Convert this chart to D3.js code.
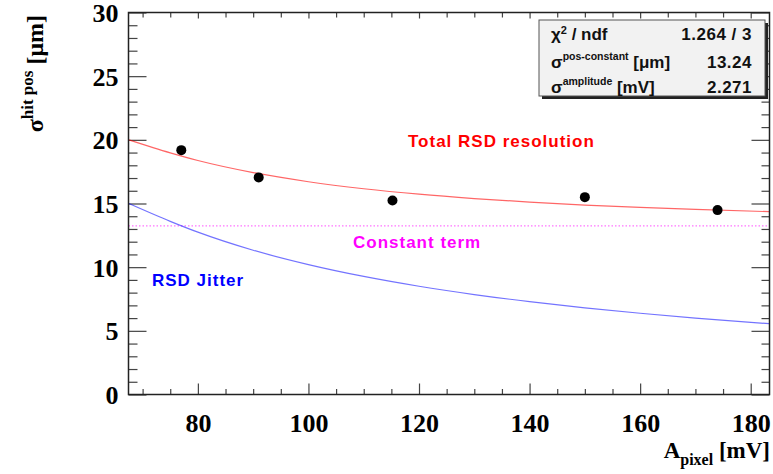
<!DOCTYPE html>
<html>
<head>
<meta charset="utf-8">
<script src="https://cdn.jsdelivr.net/npm/d3@7"></script>
<style>
  body { margin: 0; background: #fff; }
  svg { display: block; }
</style>
</head>
<body>
<div id="chart"></div>
<script>
// measured points (amplitude in mV, resolution in um)
const ampPoints = [77.0, 91.0, 115.2, 150.0, 174.0];
const sigmaPoints = [19.19, 17.05, 15.24, 15.5, 14.48];

// fitted curves at these amplitudes
const curveAmp = [67.5, 75, 80, 90, 100, 110, 120, 130, 140, 150, 160, 170, 183.4];
const totalRes = [20.0, 18.98, 18.38, 17.43, 16.71, 16.16, 15.73, 15.39, 15.11, 14.88, 14.70, 14.54, 14.36];
const jitterRes = [15.0, 13.6, 12.75, 11.33, 10.2, 9.27, 8.5, 7.85, 7.29, 6.8, 6.38, 6.0, 5.56];
const constTerm = 13.24;

// axis ticks
const xTicks = [80, 100, 120, 140, 160, 180];
const yTicks = [0, 5, 10, 15, 20, 25, 30];

// stats box
const statNames = ["χ2 / ndf", "σpos-constant [μm]", "σamplitude [mV]"];
const statValues = ["1.264 / 3", "13.24", "2.271"];

(function () {
    const W = 773, H = 474;
    const frame = { left: 128.5, right: 769.5, top: 12.5, bottom: 394.5 };

    const svg = d3.select("#chart").append("svg")
        .attr("width", W).attr("height", H);

    const x = d3.scaleLinear().domain([67.45, 183.4]).range([frame.left, frame.right]);
    const y = d3.scaleLinear().domain([0, 30]).range([frame.bottom, frame.top]);

    const serif = "'Liberation Serif', 'Times New Roman', serif";
    const sans = "'Liberation Sans', Arial, Helvetica, sans-serif";

    const xMinor = d3.range(70, 184, 5).filter(v => !xTicks.includes(v));
    const yMinor = d3.range(0, 31, 1).filter(v => !yTicks.includes(v));

    // tick marks on all four sides
    function ticks(axisFn, scale, values, size, tx, ty) {
        const g = svg.append("g")
            .attr("transform", `translate(${tx},${ty})`)
            .call(axisFn(scale).tickValues(values).tickSize(size).tickFormat(""));
        g.select(".domain").remove();
        g.selectAll("line").attr("stroke", "#444").attr("stroke-width", 1.2);
    }
    ticks(d3.axisBottom, x, xTicks, -11, 0, frame.bottom);
    ticks(d3.axisBottom, x, xMinor, -5.5, 0, frame.bottom);
    ticks(d3.axisTop, x, xTicks, -6, 0, frame.top);
    ticks(d3.axisTop, x, xMinor, -5, 0, frame.top);
    ticks(d3.axisLeft, y, yTicks, -18, frame.left, 0);
    ticks(d3.axisLeft, y, yMinor, -9, frame.left, 0);
    ticks(d3.axisRight, y, yTicks, -18, frame.right, 0);
    ticks(d3.axisRight, y, yMinor, -8, frame.right, 0);

    // tick labels
    const xl = svg.append("g")
        .attr("transform", `translate(0,${frame.bottom})`)
        .call(d3.axisBottom(x).tickValues(xTicks).tickSize(0).tickFormat(d3.format("d")));
    xl.select(".domain").remove();
    xl.selectAll("text").attr("y", 37).attr("dy", 0)
        .attr("font-family", serif).attr("font-weight", "bold").attr("font-size", 26).attr("fill", "#000");

    const yl = svg.append("g")
        .attr("transform", `translate(${frame.left},0)`)
        .call(d3.axisLeft(y).tickValues(yTicks).tickSize(0).tickPadding(10).tickFormat(d3.format("d")));
    yl.select(".domain").remove();
    yl.selectAll("text").attr("dy", "0.34em")
        .attr("font-family", serif).attr("font-weight", "bold").attr("font-size", 26).attr("fill", "#000");

    // curves
    const line = d3.line().x(d => x(d[0])).y(d => y(d[1])).curve(d3.curveMonotoneX);

    svg.append("line")
        .attr("x1", frame.left).attr("x2", frame.right)
        .attr("y1", y(constTerm)).attr("y2", y(constTerm))
        .attr("stroke", "#ff00ff").attr("stroke-opacity", 0.55)
        .attr("stroke-width", 1.2).attr("stroke-dasharray", "1.5,2");

    svg.append("path")
        .datum(curveAmp.map((a, i) => [a, jitterRes[i]]))
        .attr("d", line).attr("fill", "none")
        .attr("stroke", "#0000ff").attr("stroke-opacity", 0.55).attr("stroke-width", 1.2);

    svg.append("path")
        .datum(curveAmp.map((a, i) => [a, totalRes[i]]))
        .attr("d", line).attr("fill", "none")
        .attr("stroke", "#ff0000").attr("stroke-opacity", 0.6).attr("stroke-width", 1.2);

    // data points
    svg.selectAll(".pt")
        .data(ampPoints.map((a, i) => [a, sigmaPoints[i]]))
        .enter().append("circle")
        .attr("class", "pt")
        .attr("cx", d => x(d[0])).attr("cy", d => y(d[1]))
        .attr("r", 5).attr("fill", "#000");

    // curve labels
    const labels = [
        { t: "Total RSD resolution", x: 408, y: 147, c: "#ff0000" },
        { t: "Constant term", x: 353, y: 248, c: "#ff00ff" },
        { t: "RSD Jitter", x: 152, y: 286, c: "#0000ff" }
    ];
    svg.selectAll(".lab")
        .data(labels).enter().append("text")
        .attr("x", d => d.x).attr("y", d => d.y)
        .attr("fill", d => d.c)
        .attr("font-family", sans).attr("font-weight", "bold").attr("font-size", 17)
        .attr("letter-spacing", 1)
        .text(d => d.t);

    // frame
    svg.append("rect")
        .attr("x", frame.left).attr("y", frame.top)
        .attr("width", frame.right - frame.left).attr("height", frame.bottom - frame.top)
        .attr("fill", "none").attr("stroke", "#222").attr("stroke-width", 1.5);

    // stats box
    const box = { x: 539, y: 20, w: 226, h: 76 };
    svg.append("rect")
        .attr("x", box.x + 3).attr("y", box.y + 3)
        .attr("width", box.w).attr("height", box.h).attr("fill", "#222");
    svg.append("rect")
        .attr("x", box.x).attr("y", box.y)
        .attr("width", box.w).attr("height", box.h)
        .attr("fill", "#f2f2f2").attr("stroke", "#555").attr("stroke-width", 1);

    const rowY = [40, 67.5, 93];
    const sups = ["2", "pos-constant", "amplitude"];
    const tails = [" / ndf", " [μm]", " [mV]"];
    const heads = ["χ", "σ", "σ"];
    statNames.forEach((n, i) => {
        const t = svg.append("text")
            .attr("x", box.x + 12).attr("y", rowY[i])
            .attr("font-family", sans).attr("font-weight", "bold").attr("font-size", 17).attr("fill", "#111");
        t.append("tspan").text(heads[i]);
        t.append("tspan").attr("dy", i === 0 ? -6 : -8)
            .attr("font-size", i === 0 ? 11 : 10.5).text(sups[i]);
        t.append("tspan").attr("dy", i === 0 ? 6 : 8).text(tails[i]);
        svg.append("text")
            .attr("x", box.x + box.w - 13).attr("y", rowY[i])
            .attr("text-anchor", "end")
            .attr("font-family", sans).attr("font-weight", "bold").attr("font-size", 17)
            .attr("letter-spacing", 0.5).attr("fill", "#111")
            .text(statValues[i]);
    });

    // axis titles
    const xt = svg.append("text")
        .attr("x", 770).attr("y", 458).attr("text-anchor", "end")
        .attr("font-family", serif).attr("font-weight", "bold").attr("font-size", 23).attr("fill", "#000");
    xt.append("tspan").text("A");
    xt.append("tspan").attr("dy", 7).attr("font-size", 16).text("pixel");
    xt.append("tspan").attr("dy", -7).text(" [mV]");

    const yt = svg.append("text")
        .attr("transform", "translate(43,15) rotate(-90)")
        .attr("text-anchor", "end")
        .attr("font-family", serif).attr("font-weight", "bold").attr("font-size", 24).attr("fill", "#000");
    yt.append("tspan").text("σ");
    yt.append("tspan").attr("dy", -10).attr("font-size", 17).text("hit pos");
    yt.append("tspan").attr("dy", 10).text(" [μm]");
})();
</script>
</body>
</html>
